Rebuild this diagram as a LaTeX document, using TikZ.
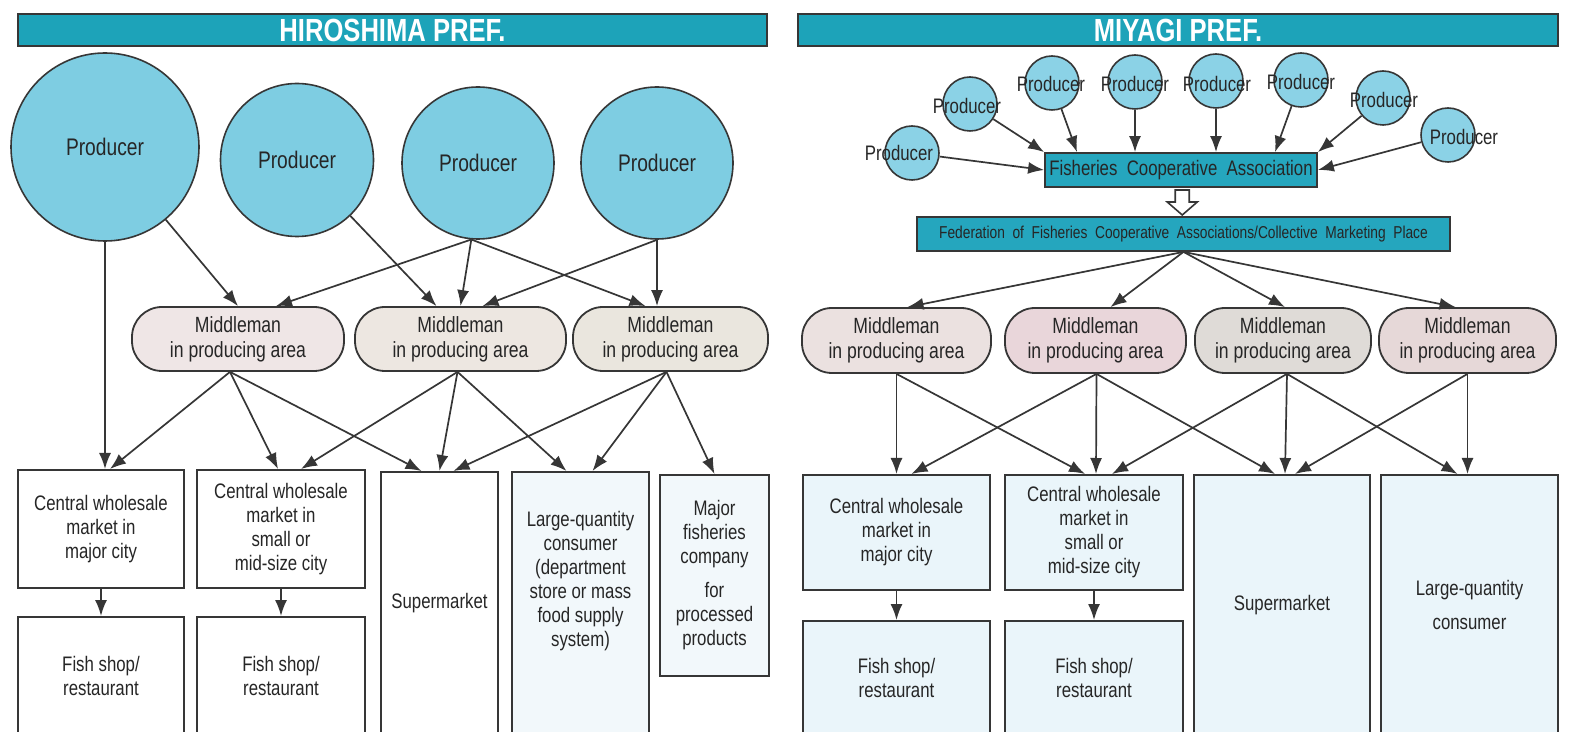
\documentclass[tikz,border=0pt]{standalone}
\usepackage{fontspec}
\setmainfont{Liberation Sans}[FakeStretch=0.8]
\usetikzlibrary{arrows.meta}
\definecolor{linec}{HTML}{363636}
\definecolor{txtc}{HTML}{262626}
\definecolor{hdrc}{HTML}{1DA3B9}
\definecolor{boxteal}{HTML}{25A6BE}
\definecolor{prodbig}{HTML}{7ECDE2}
\definecolor{prodsm}{HTML}{8BD2E6}
\definecolor{lmA}{HTML}{EFE6E6}
\definecolor{lmB}{HTML}{EDE7E1}
\definecolor{lmC}{HTML}{EAE6DE}
\definecolor{rmA}{HTML}{EBE1E0}
\definecolor{rmB}{HTML}{E9D6DA}
\definecolor{rmC}{HTML}{DFDBD7}
\definecolor{rmD}{HTML}{E6D8D8}
\definecolor{pale}{HTML}{EAF5FA}
\definecolor{paleL}{HTML}{F2F8FB}
\begin{document}
\begin{tikzpicture}[x=0.5pt,y=-0.5pt,
  every node/.style={text=txtc},
  arr/.style={draw=linec, line width=0.85pt, -{Latex[length=8pt,width=6pt]}},
  hdr/.style={draw=linec, line width=0.8pt, fill=hdrc, text=white, inner sep=0pt,
    minimum height=16pt, font=\bfseries\fontsize{16}{18}\selectfont},
  prodL/.style={circle, draw=linec, line width=0.8pt, fill=prodbig, inner sep=0pt,
    font=\fontsize{12}{14}\selectfont},
  prodR/.style={circle, draw=linec, line width=0.8pt, fill=prodsm, inner sep=0pt, minimum size=27pt},
  ptext/.style={inner sep=0pt, font=\fontsize{10.5}{12}\selectfont},
  tealbox/.style={draw=linec, line width=0.9pt, fill=boxteal, inner sep=0pt, minimum height=17pt},
  mid/.style={draw=linec, line width=0.9pt, rounded corners=15pt, minimum height=32pt, inner sep=0pt,
    align=center, font=\fontsize{11}{12.5}\selectfont},
  box/.style={draw=linec, line width=1pt, fill=white, inner sep=0pt, align=center,
    font=\fontsize{10.5}{12}\selectfont},
  btext/.style={inner sep=0pt, align=center, font=\fontsize{10.5}{12}\selectfont}]
\useasboundingbox (0,0) rectangle (1575,732);
\clip (0,0) rectangle (1575,732);
\fill[white] (0,0) rectangle (1575,732);

% headers
\node[hdr, minimum width=374.5pt] (HH) at (392.5,30) {HIROSHIMA PREF.};
\node[hdr, minimum width=380pt] (HM) at (1178,30) {MIYAGI PREF.};

% ---------------- Hiroshima ----------------
\node[prodL, minimum size=94pt] (P1) at (105,147) {Producer};
\node[prodL, minimum size=76.5pt] (P2) at (297,160) {Producer};
\node[prodL, minimum size=76pt] (P3) at (478,163) {Producer};
\node[prodL, minimum size=76pt] (P4) at (657,163) {Producer};

\node[mid, fill=lmA, minimum width=106pt] (M1) at (238,339) {Middleman\\in producing area};
\node[mid, fill=lmB, minimum width=105.5pt] (M2) at (460.5,339) {Middleman\\in producing area};
\node[mid, fill=lmC, minimum width=97.5pt] (M3) at (670.5,339) {Middleman\\in producing area};

\node[box, minimum width=83pt, minimum height=59pt] (B1) at (101,529) {Central wholesale\\market in\\major city};
\node[box, minimum width=83pt, minimum height=59pt] (F1) at (101,676) {Fish shop/\\restaurant};
\node[box, minimum width=84pt, minimum height=59pt] (B2) at (281,529) {Central wholesale\\market in\\small or\\mid-size city};
\node[box, minimum width=84pt, minimum height=59pt] (F2) at (281,676) {Fish shop/\\restaurant};
\node[box, minimum width=58.5pt, minimum height=131.5pt] (S) at (439.5,603.5) {Supermarket};
\node[box, fill=paleL, minimum width=68.5pt, minimum height=131.5pt] (LQ) at (580.5,603.5) {};
\node[btext] (LQt) at (580.5,581) {Large-quantity\\consumer\\(department\\store or mass\\food supply\\system)};
\node[box, fill=paleL, minimum width=54.5pt, minimum height=100.5pt] (MJ) at (714.5,575.5) {Major\\fisheries\\company\\[5pt]for\\processed\\products};

% producer -> middlemen
\draw[arr] (P1.south) -- (P1.south |- B1.north);
\draw[arr] (P1) -- (M1.north);
\draw[arr] (P3.265) -- ([xshift=19pt]M1.north);
\draw[arr] (P2) -- ([xshift=-12pt]M2.north);
\draw[arr] (P3.265) -- (M2.north);
\draw[arr] (P4.south) -- ([xshift=11pt]M2.north);
\draw[arr] (P3.265) -- ([xshift=-12.5pt]M3.north);
\draw[arr] (P4.south) -- (P4.south |- M3.north);

% middlemen -> outlets
\draw[arr] ([xshift=-4pt]M1.south) -- ([xshift=4.5pt]B1.north);
\draw[arr] ([xshift=-4pt]M1.south) -- ([xshift=-1.5pt]B2.north);
\draw[arr] ([xshift=-4pt]M1.south) -- ([xshift=-9pt]S.north);
\draw[arr] ([xshift=-1.5pt]M2.south) -- ([xshift=10pt]B2.north);
\draw[arr] ([xshift=-1.5pt]M2.south) -- (S.north);
\draw[arr] ([xshift=-1.5pt]M2.south) -- ([xshift=-7pt]LQ.north);
\draw[arr] ([xshift=-2pt]M3.south) -- ([xshift=7pt]S.north);
\draw[arr] ([xshift=-2pt]M3.south) -- ([xshift=6pt]LQ.north);
\draw[arr] ([xshift=-2pt]M3.south) -- (MJ.north);
\draw[arr] (B1.south) -- (F1.north);
\draw[arr] (B2.south) -- (F2.north);

% ---------------- Miyagi ----------------
\node[prodR] (rP1) at (912,153) {};
\node[prodR] (rP2) at (970,104) {};
\node[prodR] (rP3) at (1052,83) {};
\node[prodR] (rP4) at (1135,82) {};
\node[prodR] (rP5) at (1216,81) {};
\node[prodR] (rP6) at (1301,80) {};
\node[prodR] (rP7) at (1383,98) {};
\node[prodR] (rP8) at (1448,135) {};
\node[ptext] (rP1t) at (899,153) {Producer};
\node[ptext] (rP2t) at (967,106) {Producer};
\node[ptext] (rP3t) at (1051,84) {Producer};
\node[ptext] (rP4t) at (1135,84) {Producer};
\node[ptext] (rP5t) at (1217,84) {Producer};
\node[ptext] (rP6t) at (1301,82) {Producer};
\node[ptext] (rP7t) at (1384,100) {Producer};
\node[ptext] (rP8t) at (1464,137) {Producer};

\node[tealbox, minimum width=136pt, font=\fontsize{10.5}{12}\selectfont] (FCA) at (1181,170) {Fisheries\ \ Cooperative\ \ Association};
\node[tealbox, minimum width=266.5pt, font=\fontsize{8.6}{10}\selectfont] (FED) at (1183.5,234) {Federation\ \ of\ \ Fisheries\ \ Cooperative\ \ Associations/Collective\ \ Marketing\ \ Place};

\draw[arr] (rP1) -- (FCA.west);
\draw[arr] (rP2) -- (FCA.north west);
\draw[arr] (rP3) -- ([xshift=-52pt]FCA.north);
\draw[arr] (rP4.south) -- (rP4.south |- FCA.north);
\draw[arr] (rP5.south) -- (rP5.south |- FCA.north);
\draw[arr] (rP6) -- ([xshift=47pt]FCA.north);
\draw[arr] (rP7) -- (FCA.north east);
\draw[arr] (rP8) -- (FCA.east);

% open arrow
\path (FCA.south) -- (FED.north) coordinate[midway] (oam);
\draw[linec, line width=0.8pt, fill=white, line join=miter]
  ([xshift=-3.5pt,yshift=6pt]oam) -- ++(14,0) -- ++(0,12) -- ++(8,0) -- ++(-15,13)
  -- ++(-15,-13) -- ++(8,0) -- cycle;

\node[mid, fill=rmA, minimum width=94.5pt, minimum height=32.5pt] (RM1) at (896.5,340.5) {Middleman\\in producing area};
\node[mid, fill=rmB, minimum width=90.5pt, minimum height=32.5pt] (RM2) at (1095.5,340.5) {Middleman\\in producing area};
\node[mid, fill=rmC, minimum width=88pt, minimum height=32.5pt] (RM3) at (1283,340.5) {Middleman\\in producing area};
\node[mid, fill=rmD, minimum width=88.5pt, minimum height=32.5pt] (RM4) at (1467.5,340.5) {Middleman\\in producing area};

\draw[arr] (FED.south) -- ([xshift=5.5pt]RM1.north);
\draw[arr] (FED.south) -- ([xshift=7.5pt]RM2.north);
\draw[arr] (FED.south) -- ([xshift=1pt]RM3.north);
\draw[arr] (FED.south) -- ([xshift=-6pt]RM4.north);

\node[box, fill=pale, minimum width=93.5pt, minimum height=57.5pt] (RB1) at (896.5,532.5) {Central wholesale\\market in\\major city};
\node[box, fill=pale, minimum width=93.5pt, minimum height=57pt] (RF1) at (896.5,678) {Fish shop/\\restaurant};
\node[box, fill=pale, minimum width=89pt, minimum height=57.5pt] (RB2) at (1094,532.5) {Central wholesale\\market in\\small or\\mid-size city};
\node[box, fill=pale, minimum width=89pt, minimum height=57pt] (RF2) at (1094,678) {Fish shop/\\restaurant};
\node[box, fill=pale, minimum width=88pt, minimum height=130pt] (RS) at (1282,605) {Supermarket};
\node[box, fill=pale, minimum width=88.5pt, minimum height=130pt] (RLQ) at (1469.5,605) {Large-quantity\\[5pt]consumer};

\draw[arr] (RM1.south) -- (RM1.south |- RB1.north);
\draw[arr] (RM1.south) -- ([xshift=-4.5pt]RB2.north);
\draw[arr] ([xshift=0.5pt]RM2.south) -- ([xshift=7.5pt]RB1.north);
\draw[arr] ([xshift=0.5pt]RM2.south) -- ([xshift=1pt]RB2.north);
\draw[arr] ([xshift=0.5pt]RM2.south) -- ([xshift=-3.5pt]RS.north);
\draw[arr] ([xshift=2pt]RM3.south) -- ([xshift=9pt]RB2.north);
\draw[arr] ([xshift=2pt]RM3.south) -- ([xshift=1.5pt]RS.north);
\draw[arr] ([xshift=2pt]RM3.south) -- ([xshift=-6pt]RLQ.north);
\draw[arr] (RM4.south) -- ([xshift=6.5pt]RS.north);
\draw[arr] (RM4.south) -- (RM4.south |- RLQ.north);
\draw[arr] (RB1.south) -- (RF1.north);
\draw[arr] (RB2.south) -- (RF2.north);
\end{tikzpicture}
\end{document}
